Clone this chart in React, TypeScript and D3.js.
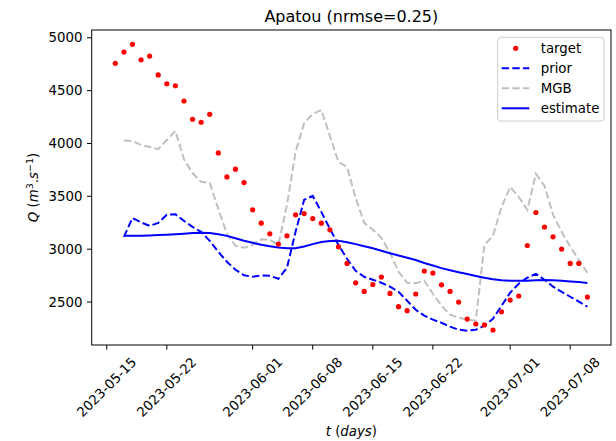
import React from "react";
import * as d3 from "d3";

// ---------- data ----------
const START_DATE = "2023-05-16";
const N_DAYS = 56;
const target = [
  4758, 4865, 4938, 4792, 4827, 4648, 4565, 4546, 4402, 4229,
  4201, 4276, 3911, 3684, 3757, 3630, 3372, 3246, 3145, 3048,
  3126, 3325, 3337, 3290, 3246, 3183, 3022, 2865, 2682, 2600,
  2666, 2736, 2581, 2456, 2418, 2576, 2793, 2774, 2663, 2600,
  2500, 2339, 2292, 2283, 2235, 2408, 2519, 2557, 3035, 3347,
  3209, 3117, 3001, 2865, 2865, 2547,
];
// line series start one day after the first target point
const prior = [
  3117, 3294, 3254, 3221, 3249, 3325, 3330, 3268, 3211, 3164,
  3079, 2975, 2881, 2805, 2753, 2739, 2751, 2748, 2720, 2824,
  3164, 3467, 3504, 3353, 3193, 3041, 2909, 2796, 2739, 2711,
  2682, 2645, 2597, 2512, 2427, 2371, 2333, 2304, 2267, 2238,
  2229, 2238, 2276, 2342, 2465, 2588, 2673, 2730, 2767, 2711,
  2645, 2597, 2550, 2503, 2456,
];
const mgb = [
  4027, 4024, 3986, 3967, 3946, 4033, 4118, 3850, 3720, 3637,
  3627, 3381, 3145, 3032, 3013, 3041, 3093, 3089, 3041, 3419,
  3920, 4193, 4279, 4317, 4071, 3826, 3778, 3485, 3249, 3183,
  3108, 2966, 2786, 2682, 2678, 2701, 2578, 2465, 2380, 2352,
  2333, 2323, 3041, 3126, 3400, 3589, 3495, 3372, 3712, 3599,
  3325, 3164, 3022, 2900, 2777,
];
const estimate = [
  3126, 3127, 3128, 3130, 3133, 3137, 3142, 3147, 3152, 3155,
  3153, 3142, 3126, 3103, 3079, 3060, 3042, 3027, 3016, 3009,
  3008, 3025, 3048, 3067, 3078, 3079, 3066, 3048, 3028, 3008,
  2985, 2962, 2940, 2919, 2897, 2869, 2845, 2821, 2800, 2782,
  2765, 2747, 2730, 2716, 2706, 2702, 2701, 2701, 2705, 2709,
  2706, 2701, 2695, 2689, 2680,
];
const xTickLabels = [
  "2023-05-15", "2023-05-22", "2023-06-01", "2023-06-08",
  "2023-06-15", "2023-06-22", "2023-07-01", "2023-07-08",
];
const yTicks = [2500, 3000, 3500, 4000, 4500, 5000];
const legendItems = ["target", "prior", "MGB", "estimate"];
const TITLE = "Apatou (nrmse=0.25)";

// ---------- layout ----------
const W = 616, H = 441;
const L = 91.7, R = 611, T = 30, B = 345;
const FONT = "DejaVu Sans, sans-serif";

const start = new Date(START_DATE + "T00:00:00Z");
const dates = d3.range(N_DAYS).map((i) => d3.utcDay.offset(start, i));
const lineDates = dates.slice(1);

const BLUE = "#0000ff";
const GREY = "#c0c0c0";
const RED = "#ff0000";

export default function App() {
  const [x0, x1] = d3.extent(dates) as [Date, Date];
  const span = +x1 - +x0;
  const x = d3
    .scaleUtc()
    .domain([new Date(+x0 - span * 0.05), new Date(+x1 + span * 0.05)])
    .range([L, R]);
  const all = [...target, ...prior, ...mgb, ...estimate];
  const [ymin, ymax] = d3.extent(all) as [number, number];
  const yr = ymax - ymin;
  const y = d3
    .scaleLinear()
    .domain([ymin - yr * 0.05, ymax + yr * 0.05])
    .range([B, T]);

  const line = d3
    .line<number>()
    .x((_, i) => x(lineDates[i]))
    .y((d) => y(d));

  const tickLen = 4.67;
  const labelW = 77.4, labelH = 15.5;
  const rotH = (labelW + labelH) * Math.SQRT1_2;
  const xLabelTop = B + tickLen + 4.67;

  const legX = 497.7, legY = 37.3, legW = 106.3, legH = 83.7;
  const rowY = [48.3, 68.3, 88.3, 108.3];

  return (
    <svg
      width={W}
      height={H}
      style={{ position: "absolute", left: 0, top: 0, background: "#fff" }}
      fontFamily={FONT}
    >
      <rect x={0} y={0} width={W} height={H} fill="#fff" />
      {/* title */}
      <text x={(L + R) / 2} y={22} textAnchor="middle" fontSize={16}>
        {TITLE}
      </text>

      {/* lines */}
      <path d={line(mgb) || ""} fill="none" stroke={GREY} strokeWidth={2} strokeDasharray="7.4 3.2" />
      <path d={line(prior) || ""} fill="none" stroke={BLUE} strokeWidth={2} strokeDasharray="7.4 3.2" />
      <path d={line(estimate) || ""} fill="none" stroke={BLUE} strokeWidth={2} />
      {target.map((v, i) => (
        <circle key={i} cx={x(dates[i])} cy={y(v)} r={2.6} fill={RED} />
      ))}

      {/* axes frame */}
      <rect x={L} y={T} width={R - L} height={B - T} fill="none" stroke="#000" strokeWidth={1} />

      {/* y ticks */}
      {yTicks.map((t) => (
        <g key={t}>
          <line x1={L - tickLen} x2={L} y1={y(t)} y2={y(t)} stroke="#000" strokeWidth={1} />
          <text x={L - tickLen - 4.67} y={y(t)} textAnchor="end" dominantBaseline="central" fontSize={13.33}>
            {t}
          </text>
        </g>
      ))}

      {/* x ticks */}
      {xTickLabels.map((s) => {
        const d = new Date(s + "T00:00:00Z");
        const px = x(d);
        return (
          <g key={s}>
            <line x1={px} x2={px} y1={B} y2={B + tickLen} stroke="#000" strokeWidth={1} />
            <text
              transform={`translate(${px},${xLabelTop + rotH / 2}) rotate(-45)`}
              textAnchor="middle"
              dominantBaseline="central"
              fontSize={13.33}
            >
              {s}
            </text>
          </g>
        );
      })}

      {/* x label */}
      <text x={(L + R) / 2} y={436} textAnchor="middle" fontSize={13.33}>
        <tspan fontStyle="italic">t</tspan>
        <tspan> (</tspan>
        <tspan fontStyle="italic">days</tspan>
        <tspan>)</tspan>
      </text>

      {/* y label */}
      <text transform={`translate(38,${(T + B) / 2}) rotate(-90)`} textAnchor="middle" fontSize={13.33}>
        <tspan fontStyle="italic">Q</tspan>
        <tspan> (</tspan>
        <tspan fontStyle="italic">m</tspan>
        <tspan fontSize={9.5} dy={-5}>3</tspan>
        <tspan dy={5}>.</tspan>
        <tspan fontStyle="italic">s</tspan>
        <tspan fontSize={9.5} dy={-5}>−1</tspan>
        <tspan dy={5}>)</tspan>
      </text>

      {/* legend */}
      <rect x={legX} y={legY} width={legW} height={legH} rx={3} fill="#fff" fillOpacity={0.8} stroke="#cccccc" strokeWidth={1} />
      {legendItems.map((name, i) => {
        const cy = rowY[i];
        let handle;
        if (i === 0) handle = <circle cx={515.7} cy={cy} r={2.6} fill={RED} />;
        else if (i === 1)
          handle = <line x1={501.7} x2={529.3} y1={cy} y2={cy} stroke={BLUE} strokeWidth={2} strokeDasharray="7.4 3.2" />;
        else if (i === 2)
          handle = <line x1={501.7} x2={529.3} y1={cy} y2={cy} stroke={GREY} strokeWidth={2} strokeDasharray="7.4 3.2" />;
        else handle = <line x1={501.7} x2={529.3} y1={cy} y2={cy} stroke={BLUE} strokeWidth={2} />;
        return (
          <g key={name}>
            {handle}
            <text x={540.7} y={cy} dominantBaseline="central" fontSize={13.33}>
              {name}
            </text>
          </g>
        );
      })}
    </svg>
  );
}
